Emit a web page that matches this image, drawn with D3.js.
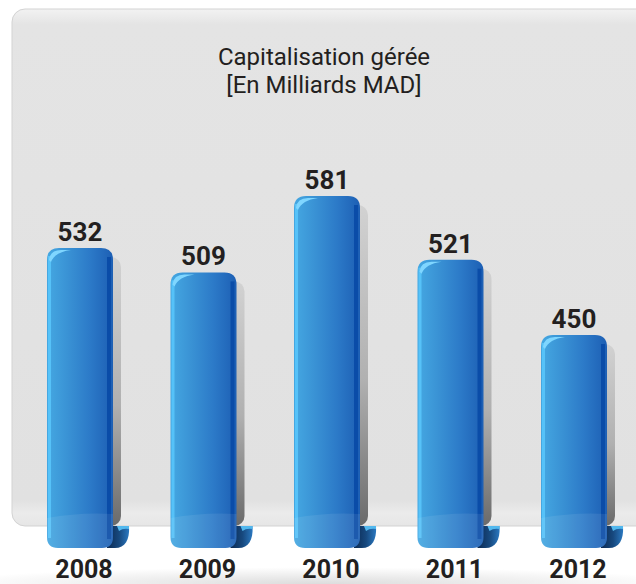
<!DOCTYPE html>
<html>
<head>
<meta charset="utf-8">
<script src="https://cdn.jsdelivr.net/npm/d3@7"></script>
<style>
  html, body { margin: 0; padding: 0; background: #fff; }
  svg { display: block; }
</style>
</head>
<body>
<div class="chart"></div>
<script>
'use strict';

var years = ['2008', '2009', '2010', '2011', '2012'];
var values = [532, 509, 581, 521, 450];
var titleLines = ['Capitalisation gérée', '[En Milliards MAD]'];

(function () {
  var width = 636,
      height = 584,
      panelBottom = 526,
      barBottom = 548;

  var svg = d3.select('.chart').append('svg')
      .attr('width', width)
      .attr('height', height);

  var defs = svg.append('defs');

  function linear(id, x2, y2, stops) {
    var g = defs.append('linearGradient')
        .attr('id', id)
        .attr('x1', 0).attr('y1', 0)
        .attr('x2', x2).attr('y2', y2);
    stops.forEach(function (s) {
      g.append('stop').attr('offset', s[0]).attr('stop-color', s[1]);
    });
  }

  linear('panelFill', 0, 1, [[0, '#f2f2f2'], [0.03, '#e4e4e4'], [0.95, '#e1e1e1'], [0.975, '#ebebeb'], [1, '#e6e6e6']]);
  linear('barFill', 1, 0, [[0, '#45a8e2'], [0.3, '#3a93d5'], [0.65, '#2c7ac8'], [1, '#1d5fb4']]);
  linear('shadowFill', 0, 1, [[0, '#d2d2d2'], [0.55, '#b0b0b0'], [1, '#6a6a6a']]);
  linear('curlFill', 1, 0, [[0, '#0c2a52'], [0.55, '#17497f'], [1, '#2a78c0']]);

  var floor = defs.append('radialGradient')
      .attr('id', 'floorFill')
      .attr('cx', 0.5).attr('cy', 1).attr('r', 0.6);
  floor.append('stop').attr('offset', 0).attr('stop-color', '#dcdcdc');
  floor.append('stop').attr('offset', 1).attr('stop-color', '#ffffff');

  // floor reflection below the panel
  svg.append('rect')
      .attr('x', 0).attr('y', 556)
      .attr('width', width).attr('height', height - 556)
      .attr('fill', 'url(#floorFill)');

  // panel
  svg.append('rect')
      .attr('x', 12).attr('y', 9)
      .attr('width', 660).attr('height', panelBottom - 9)
      .attr('rx', 13)
      .attr('fill', 'url(#panelFill)')
      .attr('stroke', '#d3d3d3')
      .attr('stroke-width', 1);

  svg.append('g')
      .selectAll('text')
      .data(titleLines)
    .enter().append('text')
      .attr('x', 324)
      .attr('y', function (d, i) { return 65 + i * 28; })
      .attr('text-anchor', 'middle')
      .style('font-family', 'Roboto, sans-serif')
      .style('font-size', '24px')
      .style('fill', '#231f20')
      .text(function (d) { return d; });

  var x = d3.scaleBand()
      .domain(years)
      .range([-10.5, 664.5])
      .padding(0.4656);

  var y = d3.scaleLinear()
      .domain([270, 581])
      .range([panelBottom, 196]);

  var data = years.map(function (yr, i) { return { year: yr, value: values[i] }; });
  var bw = x.bandwidth();

  var g = svg.selectAll('.bar')
      .data(data)
    .enter().append('g')
      .attr('class', 'bar')
      .attr('transform', function (d) { return 'translate(' + x(d.year) + ',0)'; });

  // drop shadow on the right
  g.append('rect')
      .attr('x', 8)
      .attr('y', function (d) { return y(d.value) + 9; })
      .attr('width', bw)
      .attr('height', function (d) { return panelBottom - y(d.value) - 9; })
      .attr('rx', 10)
      .attr('fill', 'url(#shadowFill)');

  // curled ribbon end
  g.append('path')
      .attr('d', 'M' + (bw - 6) + ',' + panelBottom +
                 ' L' + (bw + 16) + ',' + panelBottom +
                 ' C' + (bw + 17) + ',' + (barBottom - 8) + ' ' + (bw + 12) + ',' + barBottom + ' ' + (bw + 2) + ',' + barBottom +
                 ' L' + (bw - 6) + ',' + barBottom + ' Z')
      .attr('fill', 'url(#curlFill)');
  g.append('path')
      .attr('d', 'M' + (bw + 4) + ',' + panelBottom +
                 ' L' + (bw + 16) + ',' + panelBottom +
                 ' L' + (bw + 16) + ',' + (panelBottom + 3) +
                 ' Q' + (bw + 10) + ',' + (panelBottom + 2) + ' ' + (bw + 6) + ',' + (panelBottom + 5) + ' Z')
      .attr('fill', '#52b8ee');

  function barPath(top) {
    var rt = 12, rb = 11;
    return 'M0,' + (top + rt) +
      ' Q0,' + top + ' ' + rt + ',' + top +
      ' L' + (bw - rt) + ',' + top +
      ' Q' + bw + ',' + top + ' ' + bw + ',' + (top + rt) +
      ' L' + bw + ',' + (barBottom - rb) +
      ' Q' + bw + ',' + barBottom + ' ' + (bw - rb) + ',' + barBottom +
      ' L' + rb + ',' + barBottom +
      ' Q0,' + barBottom + ' 0,' + (barBottom - rb) + ' Z';
  }

  g.append('path')
      .attr('d', function (d) { return barPath(y(d.value)); })
      .attr('fill', 'url(#barFill)');

  // dark right edge
  g.append('rect')
      .attr('x', bw - 6)
      .attr('y', function (d) { return y(d.value) + 9; })
      .attr('width', 4)
      .attr('height', function (d) { return barBottom - y(d.value) - 18; })
      .attr('fill', '#0a4ca8');

  // bright left edge
  g.append('rect')
      .attr('x', 1)
      .attr('y', function (d) { return y(d.value) + 8; })
      .attr('width', 3)
      .attr('height', function (d) { return barBottom - y(d.value) - 18; })
      .attr('fill', '#56c2f8');

  // top-left gloss
  g.append('path')
      .attr('d', function (d) {
        var t = y(d.value);
        return 'M2,' + (t + 12) + ' Q3,' + (t + 2) + ' 14,' + (t + 2) +
               ' L24,' + (t + 2) + ' Q8,' + (t + 4) + ' 4,' + (t + 14) + ' Z';
      })
      .attr('fill', '#7fd6ff');

  // lower gloss band
  g.append('path')
      .attr('d', 'M0,' + (panelBottom - 8) + ' Q' + (bw / 2) + ',' + (panelBottom - 14) + ' ' + bw + ',' + (panelBottom - 12) +
                 ' L' + bw + ',' + (barBottom - 11) + ' Q' + bw + ',' + barBottom + ' ' + (bw - 11) + ',' + barBottom +
                 ' L11,' + barBottom + ' Q0,' + barBottom + ' 0,' + (barBottom - 11) + ' Z')
      .attr('fill', '#ffffff')
      .attr('opacity', 0.08);

  g.append('text')
      .attr('x', bw / 2)
      .attr('y', function (d) { return y(d.value) - 7; })
      .attr('text-anchor', 'middle')
      .style('font-family', 'Roboto, sans-serif')
      .style('font-weight', 'bold')
      .style('font-size', '26px')
      .style('fill', '#231f20')
      .text(function (d) { return d.value; });

  g.append('text')
      .attr('x', bw / 2 + 4)
      .attr('y', 578)
      .attr('text-anchor', 'middle')
      .style('font-family', 'Roboto, sans-serif')
      .style('font-weight', 'bold')
      .style('font-size', '25px')
      .style('fill', '#231f20')
      .text(function (d) { return d.year; });
})();
</script>
</body>
</html>
